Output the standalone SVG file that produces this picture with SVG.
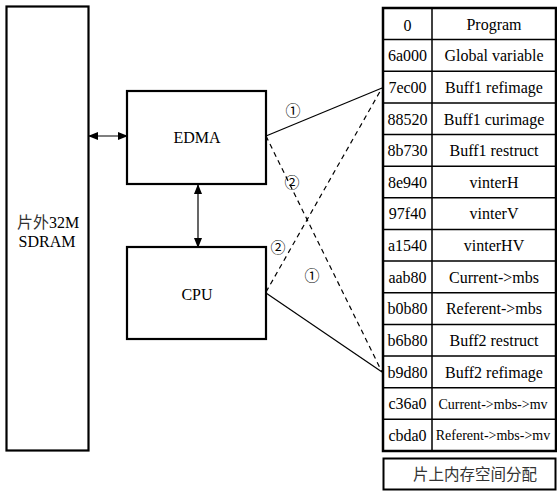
<svg xmlns="http://www.w3.org/2000/svg" width="557" height="491" viewBox="0 0 557 491">
<style>
.box{fill:#fff;stroke:#000;stroke-width:2.2}
.t{font-family:"Liberation Serif","Noto Sans CJK SC",serif;font-size:16px;text-anchor:middle;fill:#000}
.c{font-family:"Liberation Serif",serif;font-size:16px;text-anchor:middle;fill:#000}
.s{font-size:14px}
.cj{font-family:"Noto Sans CJK SC",sans-serif;font-size:15.5px;text-anchor:middle;fill:#333}
.grid{stroke:#000;stroke-width:1.5;fill:none}
.ln{stroke:#000;stroke-width:1.2;fill:none}
.dash{stroke:#000;stroke-width:1.2;fill:none;stroke-dasharray:5,4}
.num{font-family:"Noto Sans CJK SC",sans-serif;font-size:15px;text-anchor:middle;fill:#000}
</style>
<defs>
<marker id="ah" markerWidth="10" markerHeight="8" refX="9" refY="4" orient="auto-start-reverse" markerUnits="userSpaceOnUse">
<path d="M0,0 L10,4 L0,8 z" fill="#000"/>
</marker>
</defs>
<rect width="557" height="491" fill="#fff"/>
<g id="sdram">
<rect class="box" x="6.5" y="6.5" width="82" height="444"/>
<text class="t" x="48" y="228"><tspan font-family="Noto Sans CJK SC" fill="#333">片外</tspan>32M</text>
<text class="t" x="47" y="247">SDRAM</text>
</g>
<g id="edma">
<rect class="box" x="127" y="91" width="139" height="93"/>
<text class="t" x="197" y="143" font-size="15">EDMA</text>
</g>
<g id="cpu">
<rect class="box" x="127" y="247" width="139" height="92"/>
<text class="t" x="197" y="300" font-size="15">CPU</text>
</g>
<g id="memory-table">
<rect x="383" y="8" width="173" height="443" fill="#fff" stroke="#000" stroke-width="2.5"/>
<line class="grid" x1="432" y1="8" x2="432" y2="451"/>
<path class="grid" d="M383,39.6H556M383,71.3H556M383,102.9H556M383,134.6H556M383,166.2H556M383,197.8H556M383,229.5H556M383,261.1H556M383,292.8H556M383,324.4H556M383,356.0H556M383,387.7H556M383,419.3H556"/>
<text class="c" x="407.5" y="30.5" font-size="19">0</text>
<text class="c" x="494" y="29.5">Program</text>
<text class="c" x="407.5" y="61">6a000</text>
<text class="c" x="494" y="61">Global variable</text>
<text class="c" x="407.5" y="92.5">7ec00</text>
<text class="c" x="494" y="92.5">Buff1 refimage</text>
<text class="c" x="407.5" y="124.5">88520</text>
<text class="c" x="494" y="124.5">Buff1 curimage</text>
<text class="c" x="407.5" y="156">8b730</text>
<text class="c" x="494" y="156">Buff1 restruct</text>
<text class="c" x="407.5" y="187.5">8e940</text>
<text class="c" x="494" y="187.5">vinterH</text>
<text class="c" x="407.5" y="219">97f40</text>
<text class="c" x="494" y="219">vinterV</text>
<text class="c" x="407.5" y="250.5">a1540</text>
<text class="c" x="494" y="250.5">vinterHV</text>
<text class="c" x="407.5" y="282.5">aab80</text>
<text class="c" x="494" y="282.5">Current-&gt;mbs</text>
<text class="c" x="407.5" y="314">b0b80</text>
<text class="c" x="494" y="314">Referent-&gt;mbs</text>
<text class="c" x="407.5" y="345.5">b6b80</text>
<text class="c" x="494" y="345.5">Buff2 restruct</text>
<text class="c" x="407.5" y="377.5">b9d80</text>
<text class="c" x="494" y="377.5">Buff2 refimage</text>
<text class="c" x="407.5" y="409">c36a0</text>
<text class="c s" x="493" y="408.5">Current-&gt;mbs-&gt;mv</text>
<text class="c" x="407.5" y="440.5">cbda0</text>
<text class="c s" x="493" y="440">Referent-&gt;mbs-&gt;mv</text>
</g>
<g id="caption">
<rect x="383.5" y="458.5" width="172" height="31" fill="#fff" stroke="#000" stroke-width="2"/>
<text class="cj" x="475" y="480">片上内存空间分配</text>
</g>
<g id="connectors">
<line class="ln" x1="89" y1="136" x2="127" y2="136" marker-start="url(#ah)" marker-end="url(#ah)"/>
<line class="ln" x1="198" y1="185" x2="198" y2="247" marker-start="url(#ah)" marker-end="url(#ah)"/>
<line class="ln" x1="266" y1="136" x2="382" y2="88"/>
<line class="dash" x1="266" y1="136" x2="382" y2="372"/>
<line class="ln" x1="266" y1="293" x2="382" y2="372"/>
<line class="dash" x1="266" y1="292" x2="382" y2="88"/>
<text class="num" x="293" y="116">①</text>
<text class="num" x="292" y="188">②</text>
<text class="num" x="278" y="253">②</text>
<text class="num" x="312" y="281">①</text>
</g>
</svg>
